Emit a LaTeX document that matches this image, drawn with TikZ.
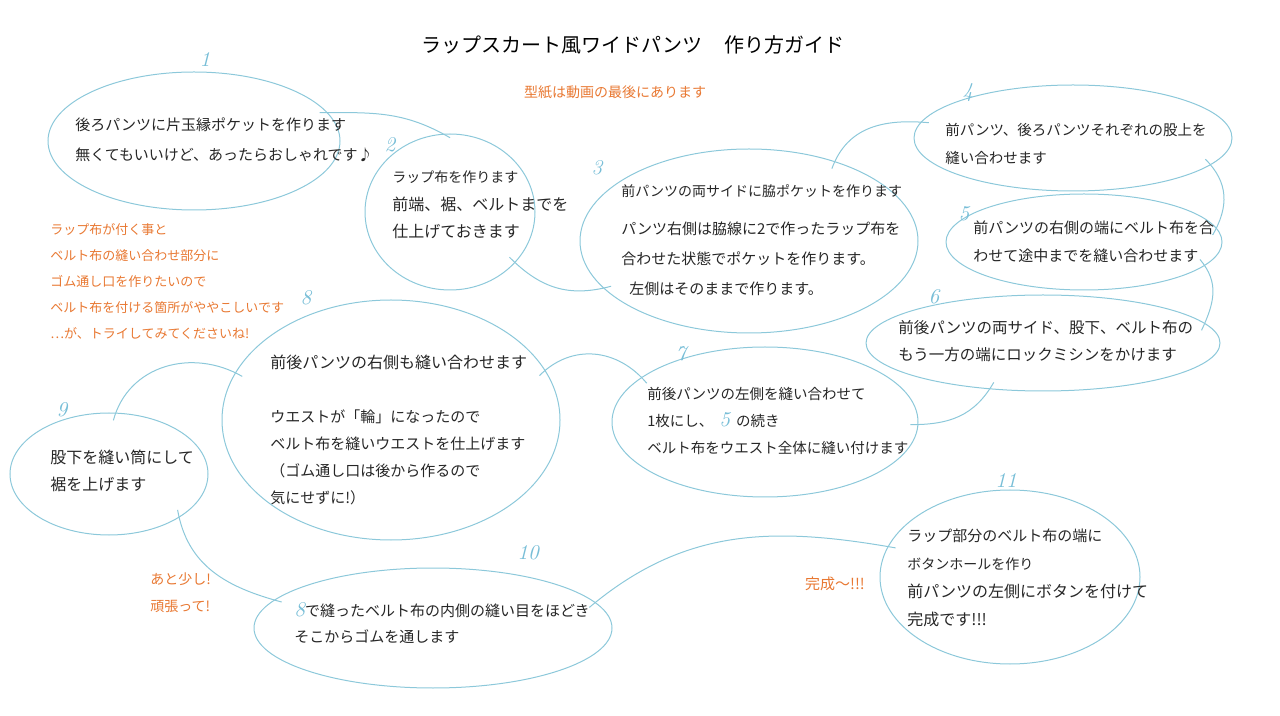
\documentclass[tikz,border=0pt]{standalone}
\usepackage{fontspec}
\newfontfamily\jp{Noto Sans CJK JP}
\usetikzlibrary{shapes.geometric}
\definecolor{lblue}{RGB}{140,200,218}
\definecolor{numblue}{RGB}{120,190,215}
\definecolor{orng}{RGB}{232,120,50}
\newcommand{\stepno}[1]{{\rmfamily\itshape\fontsize{10.5}{12}\selectfont\textcolor{numblue}{#1}}}
\tikzset{
  bub/.style={ellipse, draw=lblue, line width=0.5pt, inner sep=0pt},
  num/.style={text=numblue, font=\rmfamily\itshape\fontsize{10.5}{12}\selectfont},
  txt/.style={anchor=west, align=left, inner sep=0pt, text=black!85, font=\jp\fontsize{8}{14}\selectfont},
  memo/.style={align=left, inner sep=0pt, text=orng, font=\jp\fontsize{6.5}{13}\selectfont},
  lnk/.style={draw=lblue, line width=0.5pt, shorten <=-4pt, shorten >=-4pt}
}
\begin{document}
\begin{tikzpicture}[x=0.5pt, y=-0.5pt]
  \useasboundingbox (0,0) rectangle (1280,716);

  % Title and notes
  \node[text=black, font=\jp\fontsize{10}{12}\selectfont] (title) at (633,45)
    {ラップスカート風ワイドパンツ\hspace{11pt}作り方ガイド};
  \node[memo, font=\jp\fontsize{7}{12}\selectfont] (pattern) at (615,92) {型紙は動画の最後にあります};
  \node[memo, anchor=west] (warn) at (50,281)
    {ラップ布が付く事と\\ベルト布の縫い合わせ部分に\\ゴム通し口を作りたいので\\ベルト布を付ける箇所がややこしいです\\…が、トライしてみてくださいね!};
  \node[memo, anchor=west, font=\jp\fontsize{7}{13.5}\selectfont] (cheer) at (150,593) {あと少し!\\頑張って!};
  \node[memo, font=\jp\fontsize{7.5}{12}\selectfont] (done) at (835,584) {完成〜!!!};

  % Bubbles
  \node[bub, minimum width=146pt, minimum height=69pt] (e1) at (194,141) {};
  \node[bub, minimum width=85pt, minimum height=78pt] (e2) at (450,212) {};
  \node[bub, minimum width=169pt, minimum height=92pt] (e3) at (749,241) {};
  \node[bub, minimum width=159pt, minimum height=53pt] (e4) at (1073,138) {};
  \node[bub, minimum width=138pt, minimum height=48pt] (e5) at (1084,242) {};
  \node[bub, minimum width=177pt, minimum height=48pt] (e6) at (1043,343) {};
  \node[bub, minimum width=153pt, minimum height=75pt] (e7) at (765,422) {};
  \node[bub, minimum width=169pt, minimum height=120pt] (e8) at (391,420) {};
  \node[bub, minimum width=99pt, minimum height=61pt] (e9) at (109,474) {};
  \node[bub, minimum width=179pt, minimum height=60pt] (e10) at (433,628) {};
  \node[bub, minimum width=130pt, minimum height=87pt] (e11) at (1010,577) {};

  % Step numbers
  \node[num] (n1) at (205,60) {1};
  \node[num] (n2) at (390,145) {2};
  \node[num] (n3) at (597,168) {3};
  \node[num] (n4) at (968,93) {4};
  \node[num] (n5) at (964,214) {5};
  \node[num] (n6) at (934,297) {6};
  \node[num] (n7) at (681,354) {7};
  \node[num] (n8) at (306,298) {8};
  \node[num] (n9) at (62,410) {9};
  \node[num] (n10) at (528,553) {10};
  \node[num] (n11) at (1006,481) {11};

  % Step texts
  \node[txt, font=\jp\fontsize{7.5}{15}\selectfont] (t1) at (75,140)
    {後ろパンツに片玉縁ポケットを作ります\\無くてもいいけど、あったらおしゃれです♪};
  \node[txt, font=\jp\fontsize{8}{13.75}\selectfont] (t2) at (392,205)
    {{\fontsize{7}{13.75}\selectfont ラップ布を作ります}\\前端、裾、ベルトまでを\\仕上げておきます};
  \node[txt, font=\jp\fontsize{7.5}{15}\selectfont] (t3) at (621,240)
    {{\fontsize{7}{15}\selectfont 前パンツの両サイドに脇ポケットを作ります}\\[4pt]パンツ右側は脇線に2で作ったラップ布を\\合わせた状態でポケットを作ります。\\\hspace{4pt}左側はそのままで作ります。};
  \node[txt, font=\jp\fontsize{7.25}{14}\selectfont] (t4) at (945,144) {前パンツ、後ろパンツそれぞれの股上を\\縫い合わせます};
  \node[txt, font=\jp\fontsize{7.5}{14}\selectfont] (t5) at (973,242)
    {前パンツの右側の端にベルト布を合\\わせて途中までを縫い合わせます};
  \node[txt, font=\jp\fontsize{7.75}{13.5}\selectfont] (t6) at (898,341)
    {前後パンツの両サイド、股下、ベルト布の\\もう一方の端にロックミシンをかけます};
  \node[txt, font=\jp\fontsize{7.25}{13.5}\selectfont] (t7) at (647,421)
    {前後パンツの左側を縫い合わせて\\1枚にし、\hspace{3pt}\stepno{5}\hspace{3pt}の続き\\ベルト布をウエスト全体に縫い付けます};
  \node[txt, font=\jp\fontsize{7.5}{13.5}\selectfont] (t8) at (270,430)
    {{\fontsize{8}{13.5}\selectfont 前後パンツの右側も縫い合わせます}\\[13.5pt]ウエストが「輪」になったので\\ベルト布を縫いウエストを仕上げます\\（ゴム通し口は後から作るので\\気にせずに!）};
  \node[txt, font=\jp\fontsize{8}{13.5}\selectfont] (t9) at (50,471) {股下を縫い筒にして\\裾を上げます};
  \node[txt, font=\jp\fontsize{7.5}{13}\selectfont] (t10) at (294,623)
    {\stepno{8}で縫ったベルト布の内側の縫い目をほどき\\そこからゴムを通します};
  \node[txt, font=\jp\fontsize{7.5}{14}\selectfont] (t11) at (907,578)
    {ラップ部分のベルト布の端に\\{\fontsize{7}{14}\selectfont ボタンホールを作り}\\{\fontsize{8}{14}\selectfont 前パンツの左側にボタンを付けて}\\{\fontsize{8}{14}\selectfont 完成です!!!}};

  % Links between bubbles
  \draw[lnk] (e1.12) to[out=0, in=150] (e2.95);
  \draw[lnk] (e2.-38) to[out=-45, in=195] (e3.-162);
  \draw[lnk] (e3.43) to[out=70, in=175] (e4.174);
  \draw[lnk] (e4.-11) to[out=-45, in=60] (e5.6);
  \draw[lnk] (e5.-11) to[out=-50, in=65] (e6.7);
  \draw[lnk] (e6.-139) to[out=-120, in=0] (e7.-1);
  \draw[lnk] (e8.18) to[out=45, in=130] (e7.160);
  \draw[lnk] (e8.163) to[out=150, in=75] (e9.84);
  \draw[lnk] (e9.-32) to[out=-80, in=165] (e10.170);
  \draw[lnk] (e10.9) to[out=40, in=170] (e11.166);
\end{tikzpicture}
\end{document}
